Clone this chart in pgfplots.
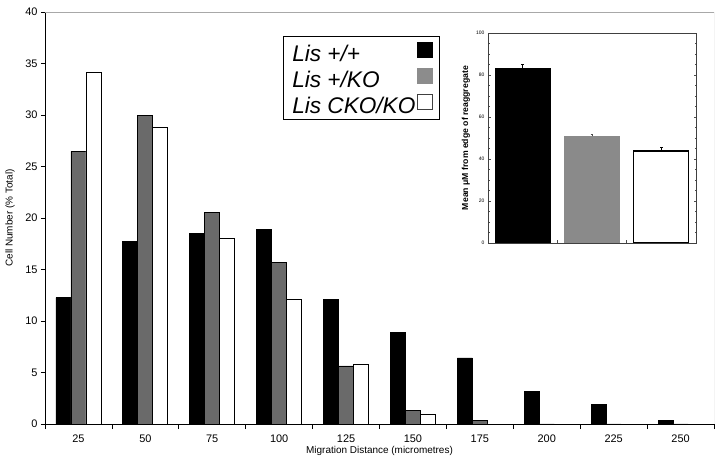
\documentclass[border=0pt]{standalone}
\usepackage{fontspec}
\setmainfont{Liberation Sans}
\usepackage{pgfplots}
\usepackage{pgfplotstable}
\pgfplotsset{compat=1.18}
\definecolor{maingray}{HTML}{6A6A6A}
\definecolor{insetgray}{HTML}{8A8A8A}
\definecolor{leggray}{HTML}{8C8C8C}
\definecolor{framegray}{HTML}{A8A8A8}

\pgfplotstableread{
x black grey white
0 12.27 26.46 34.14
1 17.72 29.93 28.80
2 18.53 20.54 17.98
3 18.85 15.68 12.12
4 12.05 5.64 5.83
5 8.91 1.33 0.94
6 6.41 0.32 0
7 3.14 0 0
8 1.91 0 0
9 0.32 0 0
}\maindata

\begin{document}
\begin{tikzpicture}
\begin{axis}[
  name=main,
  scale only axis, width=669bp, height=412bp,
  xmin=-0.5, xmax=9.5, ymin=0, ymax=40,
  ybar=0pt, bar width=15bp,
  axis lines=left, axis line style={-, black, line width=1pt},
  xtick={0,...,9}, xticklabels={25,50,75,100,125,150,175,200,225,250},
  major x tick style={draw=none},
  minor xtick={-0.5,0.5,...,9.5},
  minor tick length=5bp,
  minor x tick style={black, line width=0.8pt},
  ytick={0,5,...,40},
  major tick length=4bp,
  major y tick style={black, line width=0.8pt},
  tick align=outside,
  /pgf/number format/assume math mode=true,
  ticklabel style={font=\fontsize{11}{13}\selectfont},
  xticklabel style={yshift=-3bp},
  ylabel={Cell Number (\% Total)},
  xlabel={Migration Distance (micrometres)},
  label style={font=\fontsize{10}{12}\selectfont},
  ylabel style={at={(axis description cs:0,0.5)}, anchor=center, yshift=35bp},
  xlabel style={at={(axis description cs:0.5,0)}, anchor=center, yshift=-27bp},
  legend plot pos=right,
  legend cell align=left,
  legend style={at={(rel axis cs:0.356,0.947)}, anchor=north west, yshift=-2bp,
    draw=black, line width=1.2pt, inner xsep=7bp, inner ysep=2.5bp,
    font=\fontsize{22.7}{26}\selectfont\itshape, row sep=0bp,
    nodes={inner xsep=1.5bp, inner ysep=1bp, text height=22bp, text depth=2bp}},
]
\addplot[fill=black, draw=black, line width=0.8pt,
  legend image code/.code={\draw[fill=black, draw=black, line width=0.5pt] (0bp,-5bp) rectangle (15bp,10bp);}]
  table[x=x, y=black] {\maindata};
\addlegendentry{Lis +/+}
\addplot[fill=maingray, draw=black, line width=0.8pt,
  legend image code/.code={\draw[fill=leggray, draw=leggray, line width=0.5pt] (0bp,-5bp) rectangle (15bp,10bp);}]
  table[x=x, y=grey] {\maindata};
\addlegendentry{Lis +/KO}
\addplot[fill=white, draw=black, line width=0.8pt,
  legend image code/.code={\draw[fill=white, draw=darkgray, line width=0.6pt] (0bp,-5bp) rectangle (15bp,10bp);}]
  table[x=x, y=white] {\maindata};
\addlegendentry{Lis CKO/KO}
\draw[framegray, line width=0.8pt] (rel axis cs:0,1) -- (rel axis cs:1,1) -- (rel axis cs:1,0);
\end{axis}

\begin{axis}[
  at={(443bp,181bp)}, anchor=south west,
  scale only axis, width=208bp, height=210bp,
  xmin=-0.5, xmax=2.5, ymin=0, ymax=100,
  ybar, bar width=55bp,
  axis line style={black!75, line width=0.6pt},
  xtick={0.5,1.5}, xticklabels={},
  xtick pos=bottom,
  ytick={0,20,...,100},
  minor y tick num=3,
  tick align=inside,
  major tick length=2.5bp, minor tick length=1.5bp,
  tick style={black!70, line width=0.5pt},
  /pgf/number format/assume math mode=true,
  yticklabel style={font=\fontsize{5}{6}\selectfont},
  ylabel={Mean μM from edge of reaggregate},
  ylabel style={font=\fontsize{8.7}{10}\bfseries, at={(axis description cs:0,0.5)}, anchor=center, yshift=22bp},
]
\addplot[bar shift=0pt, fill=black, draw=black, line width=0.6pt,
  error bars/.cd, y dir=plus, y explicit,
  error bar style={black, line width=0.8pt},
  error mark options={black, rotate=90, mark size=1.3bp, line width=0.8pt}]
  coordinates {(0,83.2) +- (0,2.0)};
\addplot[bar shift=0pt, fill=insetgray, draw=insetgray, line width=0.6pt,
  error bars/.cd, y dir=plus, y explicit,
  error bar style={black!70, line width=0.6pt},
  error mark options={black!70, rotate=90, mark size=1.3bp, line width=0.6pt}]
  coordinates {(1,50.8) +- (0,1.1)};
\addplot[bar shift=0pt, fill=white, draw=black, line width=1.2pt,
  error bars/.cd, y dir=plus, y explicit,
  error bar style={black, line width=0.8pt},
  error mark options={black, rotate=90, mark size=1.3bp, line width=0.8pt}]
  coordinates {(2,43.8) +- (0,1.9)};
\end{axis}
\pgfresetboundingbox
\path (-45bp,-42bp) rectangle (675bp,424bp);
\end{tikzpicture}
\end{document}
